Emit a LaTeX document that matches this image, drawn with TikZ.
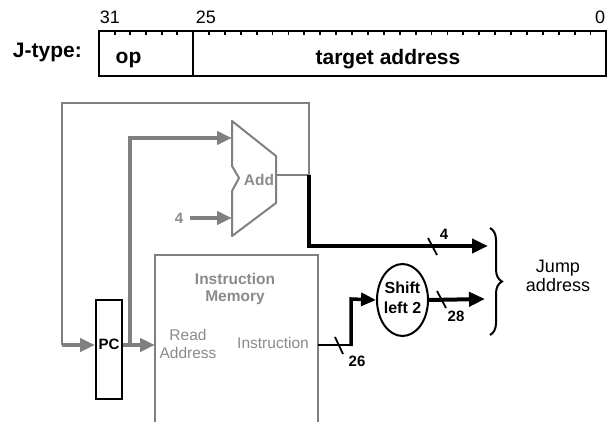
\documentclass[tikz,border=0pt]{standalone}
\usepackage{fontspec}
\setmainfont{Liberation Sans}
\usetikzlibrary{arrows.meta,shapes.geometric,decorations.pathreplacing}
\definecolor{wire}{HTML}{808080}
\definecolor{lbl}{HTML}{8A8A8A}
\tikzset{
  fieldbox/.style={draw, line width=2pt, anchor=north west, inner sep=0pt, outer sep=0pt},
  fs/.style={font=\fontsize{#1}{#1}\selectfont},
  bfs/.style={font=\fontsize{#1}{#1}\selectfont\bfseries},
  graywire/.style={draw=wire, line width=2pt},
  grayarrow/.style={draw=wire, line width=4pt, -{Triangle[length=15pt,width=13pt]}},
  blackarrow/.style={draw=black, line width=4pt, -{Triangle[length=16pt,width=14pt]}},
  slashmark/.style={draw=black, line width=1.8pt},
  tick/.style={draw=black, line width=1.8pt}
}
\begin{document}
\begin{tikzpicture}[x=1pt,y=-1pt]
\useasboundingbox (0,0) rectangle (608,422);
% ---------- J-type format ----------
\node[bfs=21, anchor=east, inner sep=0pt] (jt) at (82,52) {J-type:};
\node[fieldbox, minimum width=94pt, minimum height=45pt] (opf) at (99,31) {};
\node[fieldbox, minimum width=413pt, minimum height=45pt] (taf) at (193,31) {};
\node[bfs=21] (opt) at (128.5,60) {op};
\node[bfs=21] (tat) at (388,59) {target address};
\node[fs=18] (b31) at (110,17) {31};
\node[fs=18] (b25) at (206,17) {25};
\node[fs=18] (b0) at (600,17) {0};
\foreach \i in {1,...,5} \draw[tick] (99+\i*15.67,31) -- ++(0,4.5);
\foreach \i in {1,...,25} \draw[tick] (193+\i*15.9,31) -- ++(0,4.5);
% ---------- Add ----------
\draw[draw=wire, line width=2pt, line join=round]
  (232,121) -- (276,156) -- (276,203) -- (232,236) -- (232,191) -- (239,178) -- (232,166) -- cycle;
\coordinate (addA) at (232,138);
\coordinate (addB) at (232,218);
\coordinate (addO) at (276,175);
\node[bfs=15.5, text=lbl] (addt) at (259,180) {Add};
\node[bfs=15, text=lbl] (four) at (179,218) {4};
\draw[grayarrow] (four.east) ++(3,0) -- (addB);
% ---------- PC ----------
\node[draw, line width=2pt, minimum width=26pt, minimum height=99pt, inner sep=0pt] (pc) at (109,349.5) {};
\node[bfs=15] (pct) at (109,344) {PC};
% ---------- Instruction memory ----------
\coordinate (mbl) at (155,423);
\coordinate (mtl) at (155,255);
\coordinate (mtr) at (318,255);
\coordinate (mbr) at (318,423);
\draw[draw=wire, line width=2pt] (mbl) -- (mtl) -- (mtr) -- (mbr);
\node[bfs=15.5, text=lbl, align=center] (imt) at (235,289) {Instruction\\[1pt]Memory};
\node[fs=15.5, text=lbl, align=center] (rat) at (188,344) {Read\\[2pt]Address};
\node[fs=15.5, text=lbl] (inst) at (273,343) {Instruction};
\coordinate (mra) at (155,345);
\coordinate (mout) at (318,345);
% ---------- wires ----------
\coordinate (loopR) at (309,175);
\draw[graywire] (addO) -- (loopR) -- (309,103) -- (62,103) -- (62,345);
\draw[grayarrow] (62,345) -- (pc.west |- 0,345);
\draw[grayarrow] (pc.east |- 0,345) -- (mra);
\draw[grayarrow] (130,346) -- (130,138) -- (addA);
% ---------- shift left 2 ----------
\node[draw, ellipse, line width=2pt, minimum width=51pt, minimum height=72pt, inner sep=0pt] (sl) at (402.5,300) {};
\node[bfs=16, align=center] (slt) at (402.5,298) {Shift\\[4pt]left 2};
% black wires
\coordinate (j4) at (488,246);
\coordinate (j28) at (485,299);
\draw[blackarrow] (loopR) -- (309,246) -- (j4);
\draw[draw=black, line width=2pt] (mout) -- (351,345);
\draw[draw=black, line width=3.5pt, -{Triangle[length=15pt,width=13pt]}] (351,346) -- (351,299) -- (sl.west);
\draw[blackarrow] (sl.east) -- (j28);
% slashes and widths
\draw[slashmark] (428,238) -- (437,255);
\node[bfs=15] (w4) at (444,234) {4};
\draw[slashmark] (335,337) -- (343,354);
\node[bfs=15] (w26) at (357,361) {26};
\draw[slashmark] (437,291) -- (446,308);
\node[bfs=15] (w28) at (456,316) {28};
% brace
\draw[line width=2pt, decorate, decoration={brace, amplitude=12pt}] (490,228) -- (490,335);
\node[fs=18, align=center] (jump) at (558,276) {Jump\\[1pt]address};
\end{tikzpicture}
\end{document}
